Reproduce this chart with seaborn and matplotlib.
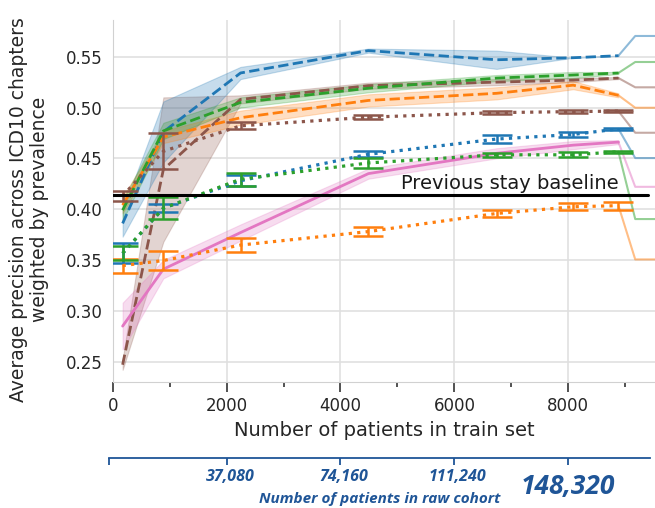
import numpy as np
import pandas as pd
import matplotlib
matplotlib.use("Agg")
import matplotlib.pyplot as plt
import matplotlib.transforms as mtransforms
import seaborn as sns

sns.set_style("whitegrid")
plt.rcParams['font.family'] = ['DejaVu Sans']

# x positions (number of patients in train set)
train_sizes = [175, 890, 2245, 4490, 6740, 8085, 8880]

# dashed series (mean +/- band)
dash_blue_mean = [0.386, 0.476, 0.534, 0.556, 0.547, 0.549, 0.551]
dash_blue_sd = [0.013, 0.030, 0.006, 0.002, 0.009, 0.0, 0.0]
dash_green_mean = [0.399, 0.477, 0.505, 0.519, 0.529, 0.532, 0.534]
dash_green_sd = [0.010, 0.008, 0.005, 0.004, 0.003, 0.003, 0.001]
dash_brown_mean = [0.247, 0.439, 0.508, 0.5215, 0.525, 0.527, 0.529]
dash_brown_sd = [0.005, 0.071, 0.004, 0.003, 0.003, 0.002, 0.001]
dash_orange_mean = [0.404, 0.471, 0.490, 0.507, 0.514, 0.522, 0.512]
dash_orange_sd = [0.008, 0.006, 0.007, 0.006, 0.006, 0.004, 0.002]

# solid pink series (mean +/- band)
pink_mean = [0.285, 0.341, 0.377, 0.435, 0.455, 0.463, 0.466]
pink_sd = [0.023, 0.009, 0.008, 0.005, 0.005, 0.004, 0.002]

# dotted series (mean +/- error bars)
dot_brown_mean = [0.413, 0.457, 0.482, 0.4905, 0.495, 0.496, 0.4965]
dot_brown_err = [0.0053, 0.0177, 0.0033, 0.002, 0.0015, 0.0015, 0.001]
dot_blue_mean = [0.3565, 0.401, 0.428, 0.454, 0.469, 0.4735, 0.479]
dot_blue_err = [0.0099, 0.004, 0.0055, 0.003, 0.004, 0.0028, 0.001]
dot_green_mean = [0.3567, 0.401, 0.4295, 0.4455, 0.4535, 0.4535, 0.4565]
dot_green_err = [0.007, 0.011, 0.0064, 0.005, 0.002, 0.0025, 0.001]
dot_orange_mean = [0.3445, 0.3495, 0.3647, 0.378, 0.3958, 0.4024, 0.4035]
dot_orange_err = [0.007, 0.0095, 0.0066, 0.0046, 0.0033, 0.0033, 0.0038]

# end positions of the label connector lines on the right
label_y = {
    'dash_blue': 0.5704, 'dash_green': 0.5448, 'dash_brown': 0.5199,
    'dash_orange': 0.4998, 'dot_brown': 0.4752, 'dot_blue': 0.4503,
    'pink': 0.422, 'dot_green': 0.3903, 'dot_orange': 0.3506,
}

baseline_value = 0.4139
raw_cohort_ticks = [2000, 4000, 6000, 8000]
raw_cohort_labels = ['37,080', '74,160', '111,240', '148,320']

BLUE, ORANGE, GREEN = '#1f77b4', '#ff7f0e', '#2ca02c'
BROWN, PINK = '#8c564b', '#e377c2'
COHORT_BLUE = '#1f5597'

band_series = [
    ('dash_brown', dash_brown_mean, dash_brown_sd, BROWN, '--'),
    ('dash_blue', dash_blue_mean, dash_blue_sd, BLUE, '--'),
    ('dash_orange', dash_orange_mean, dash_orange_sd, ORANGE, '--'),
    ('dash_green', dash_green_mean, dash_green_sd, GREEN, '--'),
    ('pink', pink_mean, pink_sd, PINK, '-'),
]
err_series = [
    ('dot_orange', dot_orange_mean, dot_orange_err, ORANGE),
    ('dot_blue', dot_blue_mean, dot_blue_err, BLUE),
    ('dot_green', dot_green_mean, dot_green_err, GREEN),
    ('dot_brown', dot_brown_mean, dot_brown_err, BROWN),
]

fig = plt.figure(figsize=(6.55, 5.08), dpi=100)
ax = fig.add_axes([0.172, 0.2486, 0.828, 0.712])

for name, mean, sd, color, ls in band_series:
    df = pd.DataFrame({'x': train_sizes, 'y': mean, 'sd': sd})
    ax.fill_between(df['x'], df['y'] - df['sd'], df['y'] + df['sd'],
                    color=color, alpha=0.25, lw=0.8)
    sns.lineplot(data=df, x='x', y='y', ax=ax, color=color, linestyle=ls,
                 lw=2, errorbar=None, zorder=3)

for name, mean, err, color in err_series:
    df = pd.DataFrame({'x': train_sizes, 'y': mean, 'err': err})
    ax.errorbar(df['x'], df['y'], yerr=df['err'], fmt='none', ecolor=color,
                elinewidth=1.8, capsize=11, capthick=1.8, zorder=3)
    sns.lineplot(data=df, x='x', y='y', ax=ax, color=color, linestyle=':',
                 lw=2.3, errorbar=None, zorder=4)

# connector lines to the (cropped) labels on the right
colors = {'dash_blue': BLUE, 'dash_green': GREEN, 'dash_brown': BROWN,
          'dash_orange': ORANGE, 'dot_brown': BROWN, 'dot_blue': BLUE,
          'pink': PINK, 'dot_green': GREEN, 'dot_orange': ORANGE}
last_vals = {s[0]: s[1][-1] for s in band_series}
last_vals.update({s[0]: s[1][-1] for s in err_series})
for name, ly in label_y.items():
    ax.plot([train_sizes[-1], 9175, 9700], [last_vals[name], ly, ly],
            color=colors[name], alpha=0.5, lw=1.5, zorder=2)

# previous stay baseline
ax.plot([0, 9400], [baseline_value, baseline_value], color='black', lw=2.2, zorder=5)
ax.text(8880, baseline_value + 0.0025, 'Previous stay baseline', fontsize=14,
        ha='right', va='bottom', color='.1')

ax.set_xlim(0, 9522)
ax.set_ylim(0.2303, 0.5861)
ax.set_xticks([0, 2000, 4000, 6000, 8000])
ax.set_xticks([1000, 3000, 5000, 7000, 9000], minor=True)
ax.set_yticks([0.25, 0.30, 0.35, 0.40, 0.45, 0.50, 0.55])
ax.tick_params(axis='x', which='major', bottom=True, length=7, width=1.2,
               color='.2', labelsize=12, pad=4)
ax.tick_params(axis='x', which='minor', bottom=True, length=3.5, width=1.2, color='.2')
ax.tick_params(axis='y', labelsize=12)
ax.grid(True, which='major', color='.88', lw=1.2)
ax.grid(False, which='minor')
for side in ['top', 'right']:
    ax.spines[side].set_visible(False)
ax.spines['left'].set_color('.82')
ax.spines['bottom'].set_color('.82')
ax.set_xlabel('Number of patients in train set', fontsize=14, color='.15')
ax.set_ylabel('Average precision across ICD10 chapters\nweighted by prevalence',
              fontsize=13.5, color='.15', linespacing=1.1)
ax.yaxis.set_label_coords(-0.118, 0.477)

# raw cohort axis drawn below
ax2 = fig.add_axes([109 / 655, 0.0978, 541 / 655, 1e-4])
ax2.set_facecolor('none')
ax2.set_xlim(-65, 9438)
ax2.grid(False)
for side in ['top', 'right', 'left']:
    ax2.spines[side].set_visible(False)
ax2.spines['bottom'].set_color(COHORT_BLUE)
ax2.spines['bottom'].set_linewidth(1.3)
ax2.set_yticks([])
ax2.set_xticks([-65] + raw_cohort_ticks)
ax2.tick_params(axis='x', bottom=True, direction='out', length=5, width=1.3,
                color=COHORT_BLUE, labelbottom=False)
trans = mtransforms.blended_transform_factory(ax2.transData, fig.transFigure)
font_kw = dict(family='Open Sans', style='italic', weight='bold', color=COHORT_BLUE)
for xt, lab in zip(raw_cohort_ticks[:-1], raw_cohort_labels[:-1]):
    ax2.text(xt + 60, 0.0604, lab, transform=trans, ha='center', va='center',
             fontsize=11.5, **font_kw)
ax2.text(raw_cohort_ticks[-1], 0.0433, raw_cohort_labels[-1], transform=trans,
         ha='center', va='center', fontsize=19, **font_kw)
ax2.text(4695, 0.0177, 'Number of patients in raw cohort', transform=trans,
         ha='center', va='center', fontsize=11, **font_kw)

fig.savefig('out.png', dpi=100)
plt.close(fig)
